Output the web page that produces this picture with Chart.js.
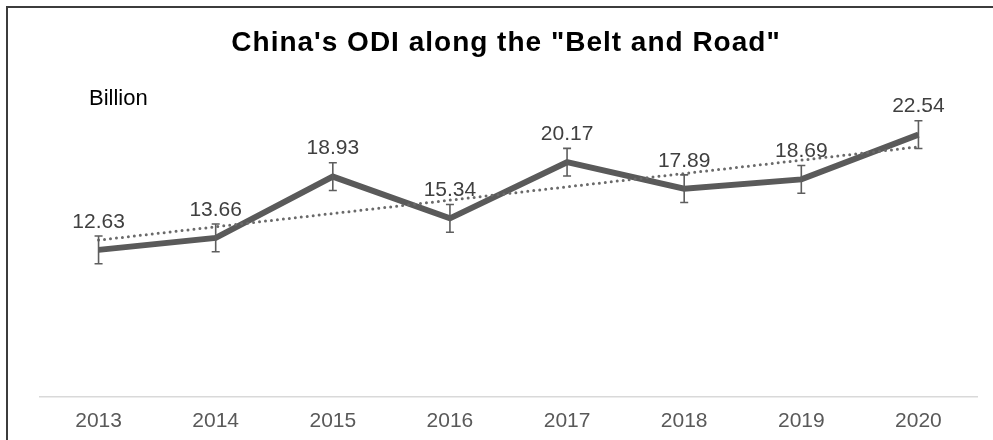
<!DOCTYPE html>
<html>
<head>
<meta charset="utf-8">
<title>China's ODI along the "Belt and Road"</title>
<script src="https://cdn.jsdelivr.net/npm/chart.js@4.4.1/dist/chart.umd.min.js"></script>
<style>
    html, body { margin: 0; padding: 0; background: #fff; }
    #wrap { width: 993px; height: 440px; position: relative; }
</style>
</head>
<body>
<div id="wrap"><canvas id="odiChart" width="993" height="440"></canvas></div>
<script>
// Chart data
const years = ['2013', '2014', '2015', '2016', '2017', '2018', '2019', '2020'];
const odiValues = [12.63, 13.66, 18.93, 15.34, 20.17, 17.89, 18.69, 22.54];
const errorMargin = 1.19; // same +/- amount on every point
const trendStart = 13.47; // dotted trend line at 2013
const trendEnd = 21.49;   // dotted trend line at 2020

const chartTitle = 'China\'s ODI along the "Belt and Road"';
const unitLabel = 'Billion';

const fontFamily = "'Liberation Sans', Arial, Helvetica, sans-serif";

// trend line only has its two ends, the gap is spanned
const trendValues = years.map((y, i) => {
    if (i === 0) return trendStart;
    if (i === years.length - 1) return trendEnd;
    return null;
});

// Frame, title and unit label
const decorPlugin = {
    id: 'decor',
    beforeDraw(chart) {
        const ctx = chart.ctx;
        ctx.save();
        ctx.fillStyle = '#fff';
        ctx.fillRect(0, 0, chart.width, chart.height);
        ctx.strokeStyle = '#3c3c3c';
        ctx.lineWidth = 2;
        ctx.beginPath();
        ctx.moveTo(7, chart.height);
        ctx.lineTo(7, 7);
        ctx.lineTo(chart.width, 7);
        ctx.stroke();

        ctx.fillStyle = '#000';
        ctx.textAlign = 'center';
        ctx.textBaseline = 'alphabetic';
        ctx.font = 'bold 28px ' + fontFamily;
        ctx.letterSpacing = '1px';
        ctx.fillText(chartTitle, 506, 51);
        ctx.letterSpacing = '0px';

        ctx.textAlign = 'left';
        ctx.font = '22px ' + fontFamily;
        ctx.fillText(unitLabel, 89, 105);
        ctx.restore();
    }
};

// Error bars and value labels on the main series
const errorBarPlugin = {
    id: 'errorBars',
    afterDatasetsDraw(chart) {
        const ctx = chart.ctx;
        const yScale = chart.scales.y;
        const meta = chart.getDatasetMeta(1);
        ctx.save();
        ctx.strokeStyle = '#5e5e5e';
        ctx.lineWidth = 1.6;
        meta.data.forEach((pt, i) => {
            const v = odiValues[i];
            const top = yScale.getPixelForValue(v + errorMargin);
            const bottom = yScale.getPixelForValue(v - errorMargin);
            ctx.beginPath();
            ctx.moveTo(pt.x, top);
            ctx.lineTo(pt.x, bottom);
            ctx.moveTo(pt.x - 4, top);
            ctx.lineTo(pt.x + 4, top);
            ctx.moveTo(pt.x - 4, bottom);
            ctx.lineTo(pt.x + 4, bottom);
            ctx.stroke();
        });

        ctx.fillStyle = '#404040';
        ctx.font = '21px ' + fontFamily;
        ctx.textAlign = 'center';
        ctx.textBaseline = 'middle';
        meta.data.forEach((pt, i) => {
            ctx.fillText(odiValues[i].toFixed(2), pt.x, pt.y - 28);
        });
        ctx.restore();
    }
};

const ctx = document.getElementById('odiChart').getContext('2d');

const myChart = new Chart(ctx, {
    type: 'line',
    data: {
        labels: years,
        datasets: [
            {
                label: 'Trend',
                data: trendValues,
                spanGaps: true,
                borderColor: '#6a6a6a',
                borderWidth: 3,
                borderDash: [0, 6],
                borderCapStyle: 'round',
                pointRadius: 0,
                fill: false,
                order: 0
            },
            {
                label: 'ODI',
                data: odiValues,
                borderColor: '#5a5a5a',
                borderWidth: 6,
                borderJoinStyle: 'miter',
                pointRadius: 0,
                tension: 0,
                fill: false,
                order: 1
            }
        ]
    },
    options: {
        responsive: false,
        animation: false,
        layout: {
            padding: { top: 106, left: 40, right: 16, bottom: 2 }
        },
        plugins: {
            legend: { display: false },
            title: { display: false },
            tooltip: { enabled: false }
        },
        scales: {
            x: {
                offset: true,
                grid: { display: false },
                border: { display: true, color: '#d9d9d9', width: 1.5 },
                ticks: {
                    color: '#595959',
                    padding: 4,
                    font: { family: fontFamily, size: 21 }
                }
            },
            y: {
                display: false,
                min: 0,
                max: 25
            }
        }
    },
    plugins: [decorPlugin, errorBarPlugin]
});
</script>
</body>
</html>
